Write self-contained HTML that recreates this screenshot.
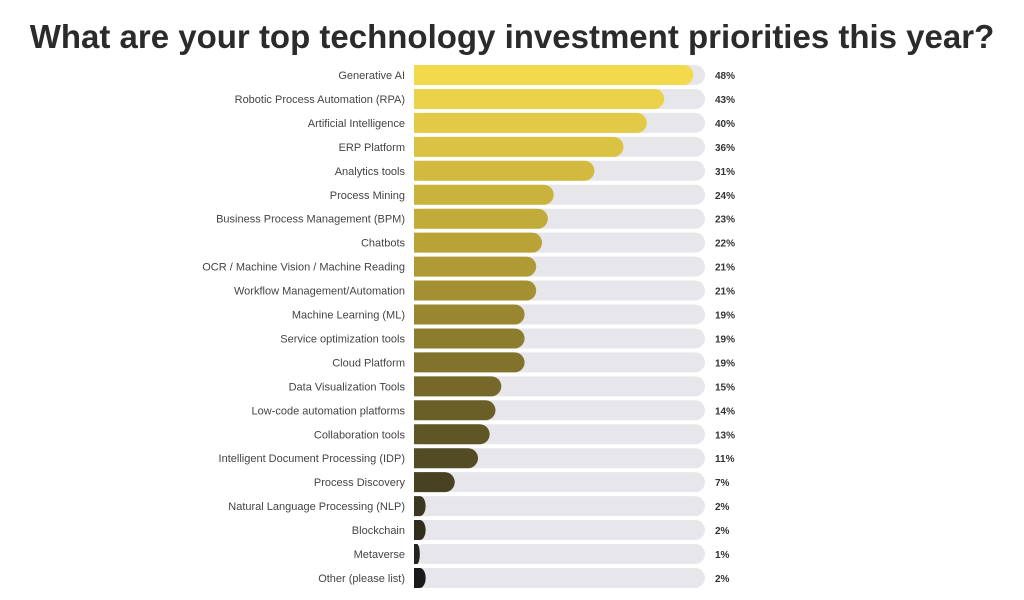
<!DOCTYPE html>
<html><head><meta charset="utf-8"><style>
body{margin:0;background:#fff;width:1024px;height:600px;overflow:hidden;font-family:"Liberation Sans",Arial,sans-serif}
#title{position:absolute;left:0;width:1024px;top:18px;text-align:center;font-size:33px;font-weight:bold;color:#2b2b2b;margin:0}
</style></head><body>
<h1 id="title">What are your top technology investment priorities this year?</h1>
<svg id="chart" width="1024" height="600" style="position:absolute;left:0;top:0"></svg>
<script>
const categories=["Generative AI","Robotic Process Automation (RPA)","Artificial Intelligence","ERP Platform","Analytics tools","Process Mining","Business Process Management (BPM)","Chatbots","OCR / Machine Vision / Machine Reading","Workflow Management/Automation","Machine Learning (ML)","Service optimization tools","Cloud Platform","Data Visualization Tools","Low-code automation platforms","Collaboration tools","Intelligent Document Processing (IDP)","Process Discovery","Natural Language Processing (NLP)","Blockchain","Metaverse","Other (please list)"];
const values=[48,43,40,36,31,24,23,22,21,21,19,19,19,15,14,13,11,7,2,2,1,2];
const maxValue=50;
const ns="http://www.w3.org/2000/svg";
const svg=document.getElementById('chart');
const x0=414,x1=705,y0=75,step=23.95,bh=20;
const xs=v=>x0+(v/maxValue)*(x1-x0);
const ys=i=>y0+i*step;
const stops=[[0,[243,218,76]],[0.35,[182,160,54]],[0.65,[110,98,40]],[1,[26,26,26]]];
function col(t){for(let k=0;k<stops.length-1;k++){const a=stops[k],b=stops[k+1];if(t<=b[0]){const f=(t-a[0])/(b[0]-a[0]);return 'rgb('+a[1].map((c,j)=>Math.round(c+(b[1][j]-c)*f)).join(',')+')';}}return 'rgb(26,26,26)';}
function el(tag,attrs){const e=document.createElementNS(ns,tag);for(const k in attrs)e.setAttribute(k,attrs[k]);svg.appendChild(e);return e;}
categories.forEach((c,i)=>{
  const cy=ys(i);
  const tr=el('rect',{x:x0,y:cy-bh/2,width:x1-x0,height:bh,rx:10,fill:'#e7e7eb'});
  
  
  const w=xs(values[i])-x0;
  const r=Math.min(10,w/2);
  const p=el('path',{d:`M${x0},${cy-bh/2} H${x0+w-r} A${r},${bh/2} 0 0 1 ${x0+w-r},${cy+bh/2} H${x0} Z`,fill:col(i/(categories.length-1))});
  
  
  const t=el('text',{x:405,y:cy+4,'text-anchor':'end','font-size':'11','fill':'#444'});
  t.textContent=c;
  
  
  const v=el('text',{x:715,y:cy+4,'font-size':'10','font-weight':'bold','fill':'#333'});
  v.textContent=values[i]+'%';
  
  
});
</script>
</body></html>
